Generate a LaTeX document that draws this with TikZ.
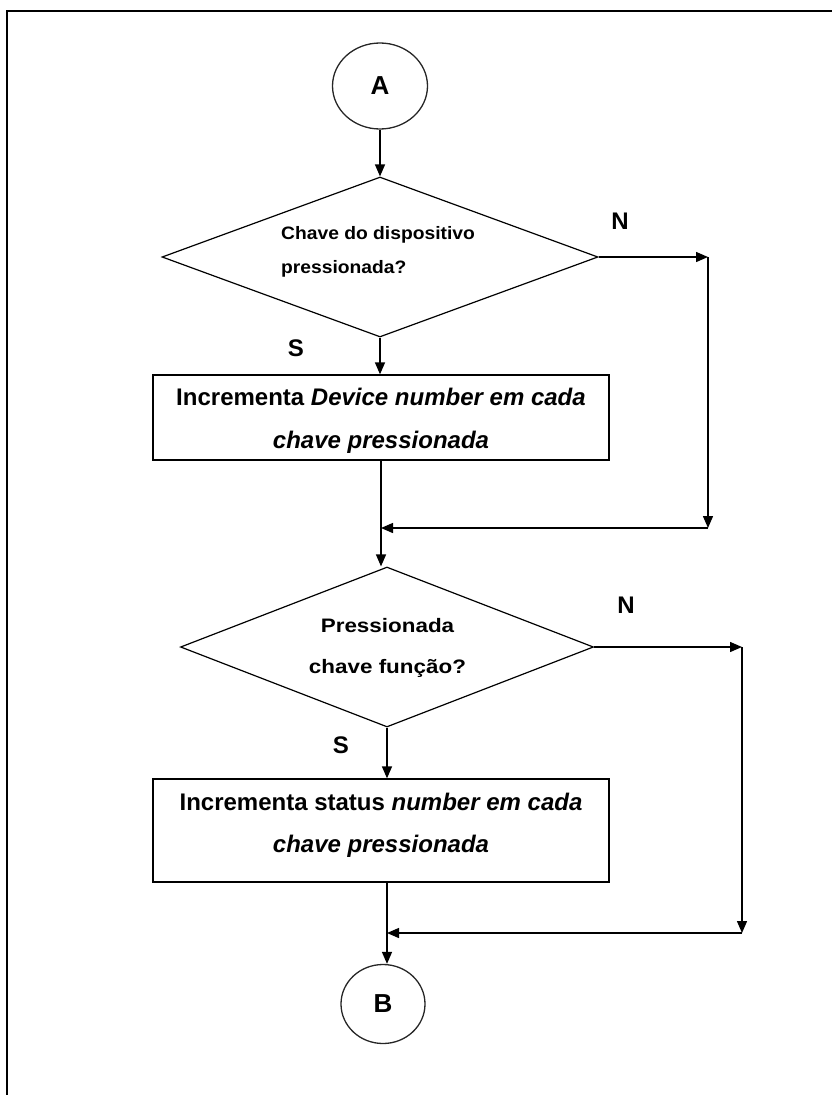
\documentclass[tikz,border=0pt]{standalone}
\usepackage{fontspec}
\setmainfont{Liberation Sans}
\newfontfamily\qfonta[FakeStretch=1.07]{Liberation Sans}
\newfontfamily\qfontb[FakeStretch=1.15]{Liberation Sans}
\usetikzlibrary{shapes.geometric,arrows.meta}
\begin{document}
\begin{tikzpicture}[x=1pt,y=-1pt,
  conn/.style={line width=1.4pt,-{Triangle[length=12pt,width=10pt]}},
  connector/.style={ellipse,draw=black!85,line width=1.3pt,inner sep=0pt},
  decision/.style={diamond,draw,line width=1.2pt,inner sep=0pt,minimum height=160pt},
  process/.style={rectangle,draw,line width=1.3pt,inner sep=0pt,minimum width=456pt},
  boxtxt/.style={font=\fontsize{24}{28}\selectfont\bfseries,inner sep=0pt,anchor=base},
  qtxta/.style={font=\qfonta\fontsize{18}{22}\selectfont\bfseries,inner sep=0pt,anchor=base west},
  qtxtb/.style={font=\qfontb\fontsize{19.5}{23}\selectfont\bfseries,inner sep=0pt,anchor=base},
  branch/.style={font=\fontsize{24}{28}\selectfont\bfseries,inner sep=0pt},
  letter/.style={font=\fontsize{26}{30}\selectfont\bfseries}]
\useasboundingbox (0,0) rectangle (831,1095);

% frame (top and left edges)
\draw[line width=2.6pt] (7,1096) -- (7,11) -- (832,11);

% start connector
\node[connector,minimum width=95pt,minimum height=86pt] (A) at (380,86) {};
\node[letter] (Alab) at (380,86) {A};

% first decision
\node[decision,minimum width=436pt] (d1) at (380,257) {};
\node[qtxta] (d1a) at (281,239) {Chave do dispositivo};
\node[qtxta] (d1b) at (281,273) {pressionada?};
\node[branch] (N1) at (620,221) {N};
\node[branch] (S1) at (296,348) {S};

% first process
\node[process,minimum height=85pt] (p1) at (381,417.5) {};
\node[boxtxt] (p1a) at (381,405) {Incrementa \textit{Device number em cada}};
\node[boxtxt] (p1b) at (381,448) {\textit{chave pressionada}};

% second decision
\node[decision,minimum width=413pt] (d2) at (387,647) {};
\node[qtxtb] (d2a) at (387.5,632) {Pressionada};
\node[qtxtb] (d2b) at (387.5,673) {chave função?};
\node[branch] (N2) at (626,605) {N};
\node[branch] (S2) at (341,745) {S};

% second process
\node[process,minimum height=103pt] (p2) at (381,830.5) {};
\node[boxtxt] (p2a) at (381,810) {Incrementa status \textit{number em cada}};
\node[boxtxt] (p2b) at (381,852) {\textit{chave pressionada}};

% end connector
\node[connector,minimum width=84pt,minimum height=79pt] (B) at (383,1004) {};
\node[letter] (Blab) at (383,1004) {B};

% bypass corners and join points
\coordinate (n1) at (708,257);
\coordinate (n1d) at (708,528);
\coordinate (j1) at (381,528);
\coordinate (n2) at (742,647);
\coordinate (n2d) at (742,933);
\coordinate (j2) at (387,933);

% flow
\draw[conn] (A) -- (d1.north);
\draw[conn] (d1.south) -- (p1.north -| d1.south);
\draw[conn] (d1.east) -- (n1);
\draw[conn] (n1) -- (n1d);
\draw[conn] (n1d) -- (j1);
\draw[conn] (p1.south) -- (p1.south |- d2.north);
\draw[conn] (d2.south) -- (d2.south |- p2.north);
\draw[conn] (d2.east) -- (n2);
\draw[conn] (n2) -- (n2d);
\draw[conn] (n2d) -- (j2);
\draw[conn] (d2.south |- p2.south) -- (d2.south |- B.north);
\end{tikzpicture}
\end{document}
